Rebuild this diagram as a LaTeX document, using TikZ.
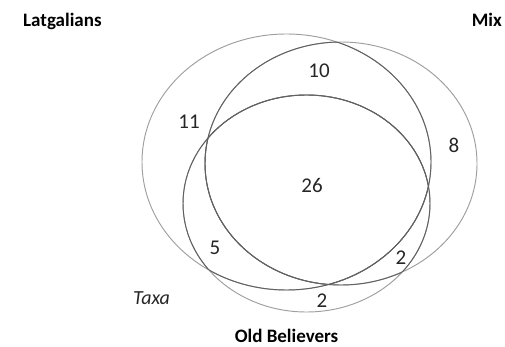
\documentclass[tikz,border=0pt]{standalone}
\usepackage{fontspec}
\setmainfont{Carlito}
\begin{document}
\begin{tikzpicture}[x=1pt,y=-1pt,
  outline/.style={draw=gray!75,line width=0.95pt},
  innerline/.style={draw=black!62,line width=0.95pt},
  setlabel/.style={font=\fontsize{19}{22}\selectfont\bfseries,inner sep=0pt},
  count/.style={font=\fontsize{21}{24}\selectfont,inner sep=0pt,text=black!85}]
 \useasboundingbox (0,0) rectangle (505,347);
 % centres of the three sets
 \coordinate (lat) at (286.5,162);
 \coordinate (mix) at (341,163.5);
 \coordinate (old) at (306.5,203.5);
 % outlines
 \draw[outline] (lat) ellipse [x radius=144.5,y radius=128];
 \draw[outline] (mix) ellipse [x radius=136,y radius=121.5];
 \draw[outline] (old) ellipse [x radius=123.5,y radius=108.5];
 % parts lying inside another set are darker
 \begin{scope}
  \clip (lat) ellipse [x radius=144.5,y radius=128];
  \draw[innerline] (mix) ellipse [x radius=136,y radius=121.5];
  \draw[innerline] (old) ellipse [x radius=123.5,y radius=108.5];
 \end{scope}
 \begin{scope}
  \clip (mix) ellipse [x radius=136,y radius=121.5];
  \draw[innerline] (lat) ellipse [x radius=144.5,y radius=128];
  \draw[innerline] (old) ellipse [x radius=123.5,y radius=108.5];
 \end{scope}
 \begin{scope}
  \clip (old) ellipse [x radius=123.5,y radius=108.5];
  \draw[innerline] (lat) ellipse [x radius=144.5,y radius=128];
  \draw[innerline] (mix) ellipse [x radius=136,y radius=121.5];
 \end{scope}
 % labels
 \node[setlabel,anchor=base west] (latname) at (23,27) {Latgalians};
 \node[setlabel,anchor=base east] (mixname) at (502,27) {Mix};
 \node[setlabel,anchor=base] (oldname) at (286.5,342.5) {Old Believers};
 \node[count,font=\fontsize{20}{24}\selectfont\itshape,anchor=base west] (taxa) at (133,304) {Taxa};
 % counts
 \node[count] (latonly) at (189,122) {11};
 \node[count] (latmix) at (319,71) {10};
 \node[count] (mixonly) at (454,145) {8};
 \node[count] (all) at (312,185) {26};
 \node[count] (latold) at (215,248) {5};
 \node[count] (mixold) at (401,258) {2};
 \node[count] (oldonly) at (322,301) {2};
\end{tikzpicture}
\end{document}
